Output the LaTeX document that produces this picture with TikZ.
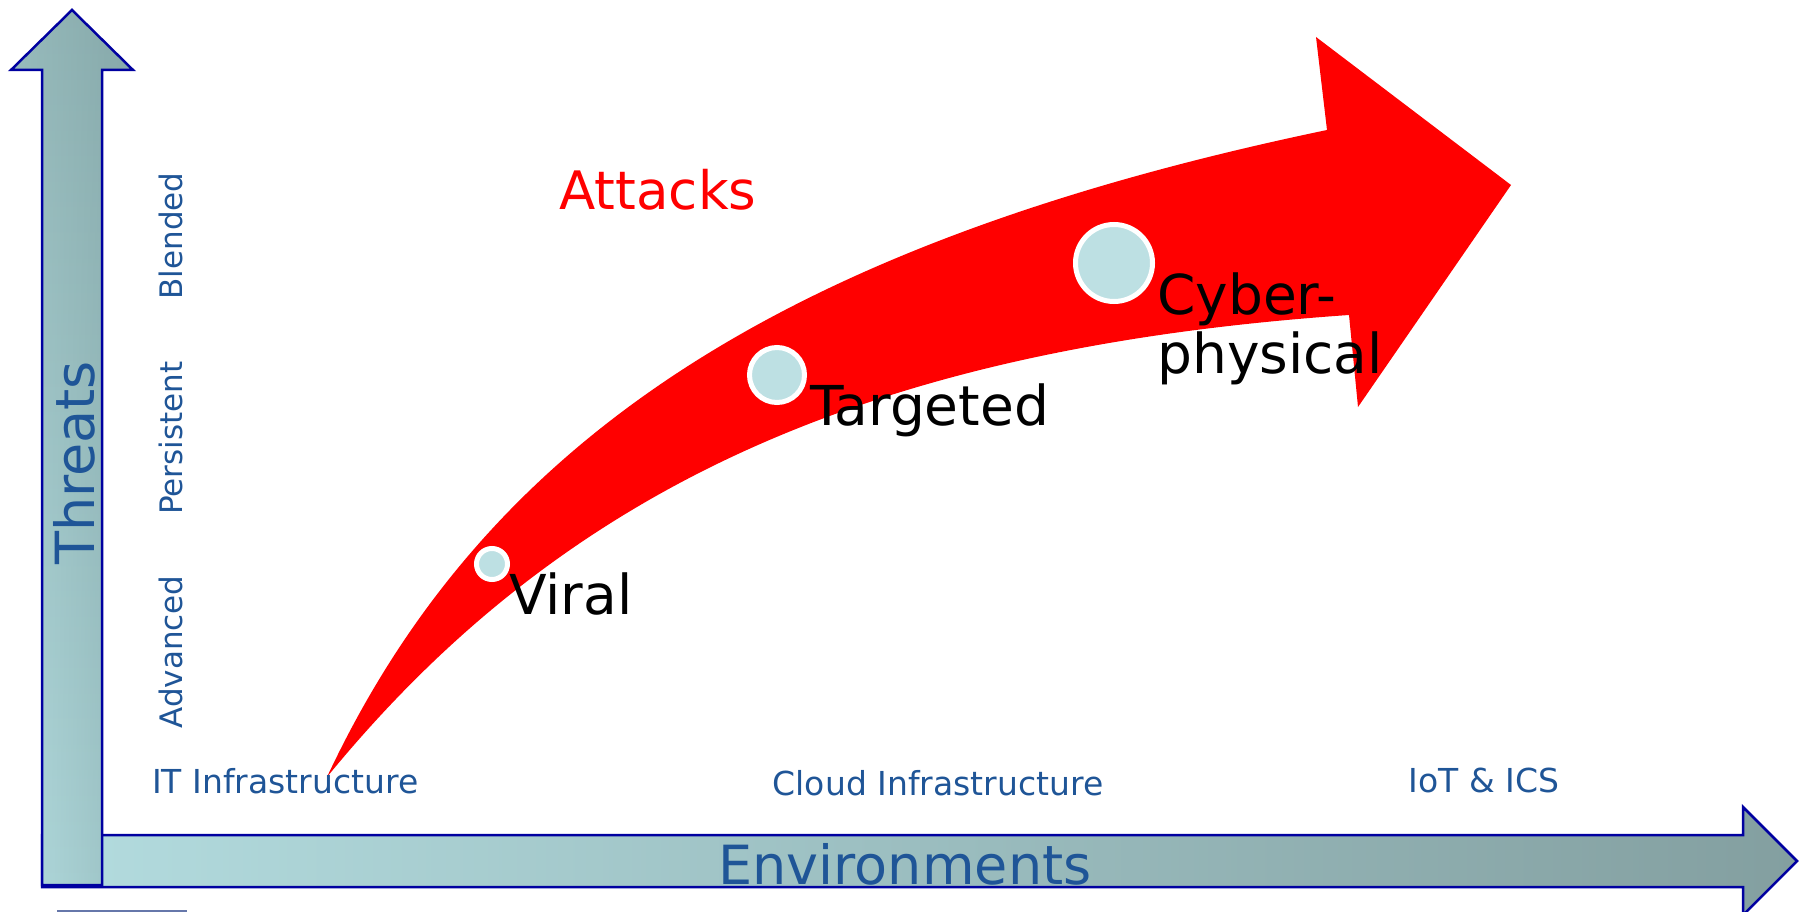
\documentclass[tikz,border=0pt]{standalone}
\usepackage{fontspec}
\setmainfont{DejaVu Sans}
\usetikzlibrary{positioning, fadings}
\definecolor{thblue}{HTML}{1F5597}
\definecolor{thnavy}{HTML}{0000A0}
\definecolor{thlight}{HTML}{B3DCDF}
\definecolor{thmid}{HTML}{93B6B7}
\definecolor{thend}{HTML}{839FA0}
\definecolor{thshadow}{HTML}{5F7F80}
\definecolor{thdot}{HTML}{BDE0E3}
\definecolor{thred}{HTML}{FF0000}
\definecolor{thline}{HTML}{6677AA}

\begin{document}
\begin{tikzpicture}[x=1pt, y=-1pt,
  axarrow/.style={draw=thnavy, line width=2.5pt, line join=miter},
  tier/.style={rotate=90, text=thblue, font=\fontsize{31}{36}\selectfont, inner sep=0pt},
  env/.style={text=thblue, font=\fontsize{33}{38}\selectfont, inner sep=0pt},
  title/.style={text=thblue, font=\fontsize{54}{60}\selectfont, inner sep=0pt},
  dot/.style={circle, fill=thdot, draw=white, line width=5pt, inner sep=0pt},
  stage/.style={anchor=base west, font=\fontsize{55}{59}\selectfont, inner sep=0pt, align=left},
]
\useasboundingbox (0,0) rectangle (1802,912);

% Axis arrows
\path[preaction={left color=thlight, right color=thend}, axarrow]
  (42,835) -- (1743,835) -- (1743,807) -- (1797,861) -- (1743,915) -- (1743,887) -- (42,887) -- cycle;
\path[preaction={bottom color=thlight, top color=thmid!90!thlight},
      preaction={fill=thshadow, fill opacity=0.3, path fading=west}, axarrow]
  (72,10) -- (133,70) -- (102,70) -- (102,885) -- (42,885) -- (42,70) -- (11,70) -- cycle;
\draw[thline, line width=1.5pt] (57,911) -- (187,911);

% Attack arrow
\fill[thred] (327,777) .. controls (486,438) and (786,243) .. (1327,130) -- (1316,37) -- (1511,185) -- (1358,407) -- (1349,315) .. controls (872,348) and (565,486) .. (327,777) -- cycle;

% Axis labels
\node[title, rotate=90] (threats) at (74,463) {Threats};
\node[tier] (blended) at (171,236) {Blended};
\node[tier] (persistent) at (171,438) {Persistent};
\node[tier] (advanced) at (171,652) {Advanced};
\node[env, anchor=west] (itinfra) at (152,781) {IT Infrastructure};
\node[env] (cloud) at (938,783) {Cloud Infrastructure};
\node[env] (iot) at (1484,780) {IoT \& ICS};
\node[title] (environments) at (905,864) {Environments};
\node[title, text=thred, font=\fontsize{53}{58}\selectfont] (attacks) at (658,190) {Attacks};

% Stages
\node[dot, minimum size=31pt] (viral) at (492,564) {};
\node[dot, minimum size=55pt] (targeted) at (777,375) {};
\node[dot, minimum size=77pt] (cyber) at (1114,263) {};
\node[stage] (virallbl) at (509,614) {Viral};
\node[stage] (targetedlbl) at (810,425) {Targeted};
\node[stage] (cyberlbl) at (1157,373) {Cyber-\\physical};

\end{tikzpicture}
\end{document}
